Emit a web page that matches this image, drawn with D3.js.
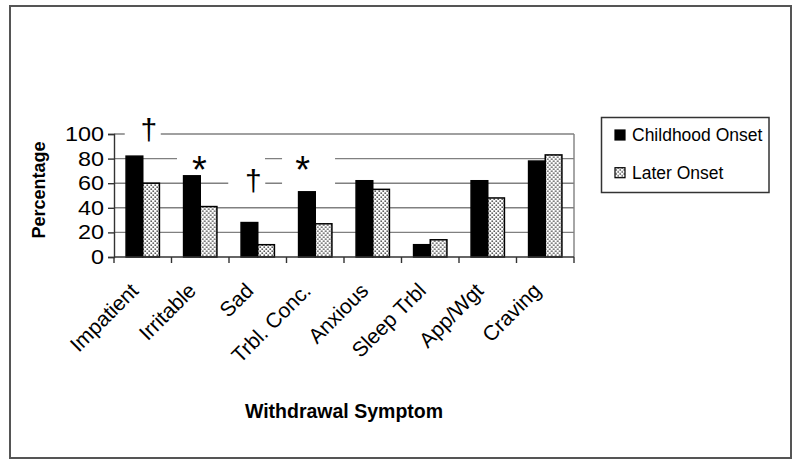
<!DOCTYPE html>
<html><head><meta charset="utf-8">
<script src="https://cdn.jsdelivr.net/npm/d3@7"></script>
<style>
body{margin:0;background:#fff}
text{font-family:Arial,"Liberation Sans",sans-serif;fill:#000}
</style></head>
<body><svg id="c" width="800" height="467"></svg>
<script>
// ---- data ----
const categories = ["Impatient","Irritable","Sad","Trbl. Conc.","Anxious","Sleep Trbl","App/Wgt","Craving"];
const childhoodOnset = [82,66,28,53,62,10,62,78];
const laterOnset = [60,41,10,27,55,14,48,83];
const seriesNames = ["Childhood Onset","Later Onset"];
const yTicks = [0,20,40,60,80,100];
const yTitle = "Percentage";
const xTitle = "Withdrawal Symptom";
const annotations = [
  {category:"Impatient", symbol:"\u2020", level:102.5},
  {category:"Irritable", symbol:"*", level:78},
  {category:"Sad", symbol:"\u2020", level:61},
  {category:"Trbl. Conc.", symbol:"*", level:78}
];

// ---- layout ----
const svg = d3.select("#c");
const L = 114, R = 574, T = 134, B = 257;
const x = d3.scaleBand().domain(categories).range([L,R]);
const y = d3.scaleLinear().domain([0,100]).range([B,T]);
const bw = x.step()*0.29;
const xs = d3.scaleBand().domain(seriesNames).range([0,2*bw]);
const off = (x.step()-2*bw)/2;

const defs = svg.append("defs");
const pat = defs.append("pattern").attr("id","dots").attr("patternUnits","userSpaceOnUse")
  .attr("width",4).attr("height",4);
pat.append("rect").attr("width",4).attr("height",4).attr("fill","#fff");
pat.append("rect").attr("x",0.5).attr("y",0.5).attr("width",1.3).attr("height",1.3).attr("fill","#000");
pat.append("rect").attr("x",2.5).attr("y",2.5).attr("width",1.3).attr("height",1.3).attr("fill","#000");

// outer frame
svg.append("rect").attr("x",10).attr("y",6).attr("width",781).attr("height",452)
  .attr("fill","#fff").attr("stroke","#555").attr("stroke-width",2);

// gridlines (including top at 100)
svg.append("g").selectAll("line").data(yTicks.filter(d=>d>0)).join("line")
  .attr("x1",L).attr("x2",R).attr("y1",d=>y(d)).attr("y2",d=>y(d))
  .attr("stroke","#808080").attr("stroke-width",1.4);
// right border
svg.append("line").attr("x1",R).attr("x2",R).attr("y1",T).attr("y2",B)
  .attr("stroke","#808080").attr("stroke-width",1.4);

// annotation backing boxes
const annLayout = {
  "Impatient":  {dx:6,    box:[-24,12,-11,8],  fs:30},
  "Irritable":  {dx:-0.75,box:[-22.5,65.5,-14,11], fs:38},
  "Sad":        {dx:-4.5, box:[-25,12,-10,13], fs:30},
  "Trbl. Conc.":{dx:-12.5,box:[-20.7,32.3,-14,28], fs:38}
};
function ax(a){ return x(a.category)+x.step()/2+annLayout[a.category].dx; }
svg.append("g").selectAll("rect").data(annotations).join("rect")
  .attr("x",a=>ax(a)+annLayout[a.category].box[0])
  .attr("width",a=>annLayout[a.category].box[1]-annLayout[a.category].box[0])
  .attr("y",a=>y(a.level)+annLayout[a.category].box[2])
  .attr("height",a=>annLayout[a.category].box[3]-annLayout[a.category].box[2])
  .attr("fill","#fff");

// bars
const rows = categories.map((c,i)=>({c, vals:[childhoodOnset[i], laterOnset[i]]}));
const fills = ["#000","url(#dots)"];
const g = svg.append("g").selectAll("g").data(rows).join("g")
  .attr("transform",d=>`translate(${x(d.c)+off},0)`);
g.selectAll("rect").data(d=>d.vals.map((v,j)=>({v,s:seriesNames[j],j}))).join("rect")
  .attr("x",d=>xs(d.s)).attr("width",xs.bandwidth())
  .attr("y",d=>y(d.v)).attr("height",d=>B-y(d.v))
  .attr("fill",d=>fills[d.j]).attr("stroke","#000").attr("stroke-width",1.5);

// y axis
const yAxis = svg.append("g").attr("transform",`translate(${L},0)`)
  .call(d3.axisLeft(y).tickValues(yTicks).tickSize(6).tickFormat(""));
yAxis.select(".domain").attr("stroke","#333").attr("stroke-width",1.4);
yAxis.selectAll(".tick line").attr("stroke","#333").attr("stroke-width",1.4);
svg.append("g").selectAll("text").data(yTicks).join("text")
  .attr("transform",d=>`translate(104,${y(d)}) scale(1.2,1)`)
  .attr("text-anchor","end").attr("dy","0.36em").style("font-size","19.5px")
  .text(d=>d);

// x axis
svg.append("line").attr("x1",L).attr("x2",R).attr("y1",B).attr("y2",B)
  .attr("stroke","#333").attr("stroke-width",1.4);
const bounds = categories.map(c=>x(c)).concat([R]);
svg.append("g").selectAll("line").data(bounds).join("line")
  .attr("x1",d=>d).attr("x2",d=>d).attr("y1",B).attr("y2",B+6)
  .attr("stroke","#333").attr("stroke-width",1.4);
svg.append("g").selectAll("text").data(categories).join("text")
  .attr("transform",c=>`translate(${x(c)+x.step()/2-3},${B+35}) rotate(-45)`)
  .attr("text-anchor","end").style("font-size","21px")
  .text(c=>c);

// annotation symbols
svg.append("g").selectAll("text").data(annotations).join("text")
  .attr("x",a=>ax(a))
  .attr("y",a=>y(a.level)+(a.symbol==="*"?0.58:0.3)*annLayout[a.category].fs)
  .attr("text-anchor","middle").style("font-size",a=>annLayout[a.category].fs+"px")
  .text(a=>a.symbol);

// titles
svg.append("text").attr("transform",`translate(45,190) rotate(-90)`)
  .attr("text-anchor","middle").style("font-size","18px").style("font-weight","bold")
  .text(yTitle);
svg.append("text").attr("x",(L+R)/2).attr("y",418)
  .attr("text-anchor","middle").style("font-size","19.5px").style("font-weight","bold")
  .text(xTitle);

// legend
const lg = svg.append("g");
lg.append("rect").attr("x",601.5).attr("y",117.5).attr("width",167.5).attr("height",75)
  .attr("fill","#fff").attr("stroke","#333").attr("stroke-width",1.5);
const li = lg.selectAll("g").data(seriesNames).join("g")
  .attr("transform",(d,i)=>`translate(615,${[135,172.7][i]})`);
li.append("rect").attr("x",0).attr("y",-5).attr("width",10).attr("height",10)
  .attr("fill",(d,i)=>fills[i]).attr("stroke","#000").attr("stroke-width",1.2);
li.append("text").attr("x",17).attr("dy","0.36em").style("font-size","17.5px").text(d=>d);
</script></body></html>
